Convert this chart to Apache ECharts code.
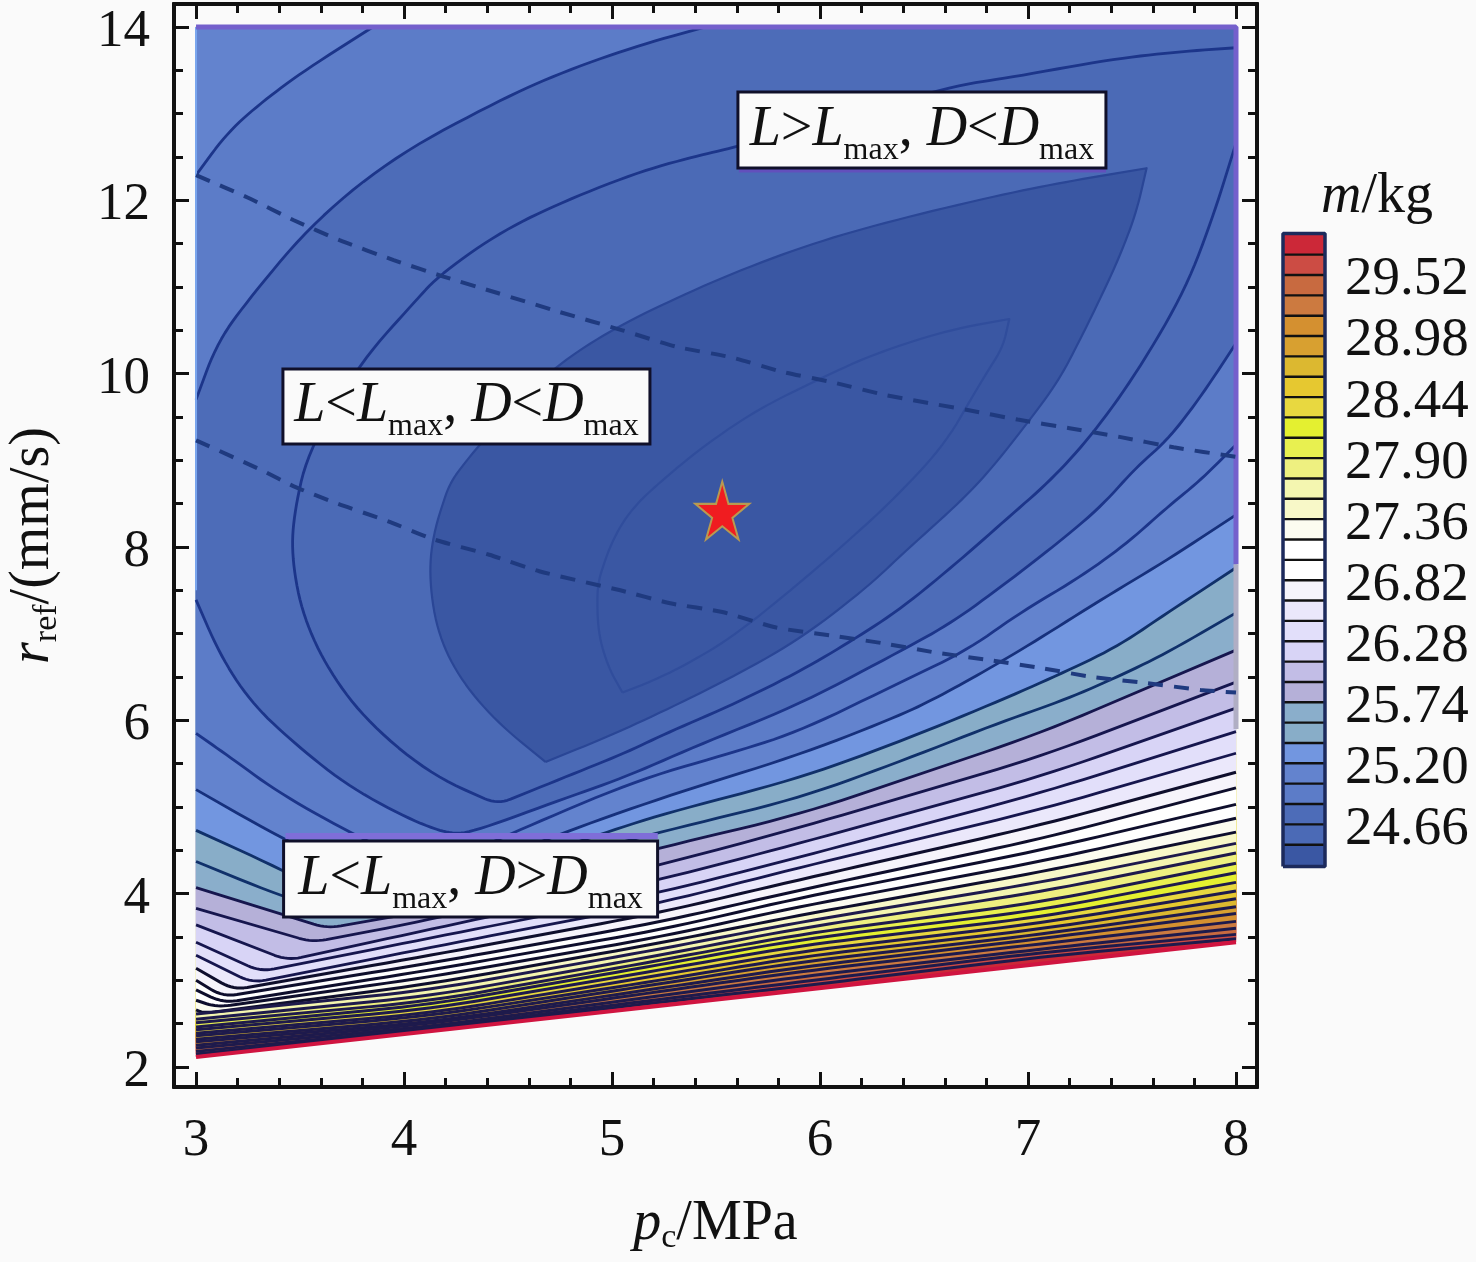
<!DOCTYPE html>
<html><head><meta charset="utf-8">
<style>html,body{margin:0;padding:0;background:#fafafa}#c{width:1476px;height:1262px}</style>
<script src="https://cdn.jsdelivr.net/npm/echarts@6/dist/echarts.min.js"></script>
</head><body><div id="c"></div>
<script>
const xTicks=[3,4,5,6,7,8];
const yTicks=[2,4,6,8,10,12,14];
const xMinor=[3.2,3.4,3.6,3.8,4.2,4.4,4.6,4.8,5.2,5.4,5.6,5.8,6.2,6.4,6.6,6.8,7.2,7.4,7.6,7.8];
const yMinor=[2.5,3,3.5,4.5,5,5.5,6.5,7,7.5,8.5,9,9.5,10.5,11,11.5,12.5,13,13.5];
const barTicks=[24.66,25.20,25.74,26.28,26.82,27.36,27.90,28.44,28.98,29.52];
const levels=[24.30,24.48,24.66,24.84,25.02,25.20,25.38,25.56,25.74,25.92,26.10,26.28,26.46,26.64,26.82,27.00,27.18,27.36,27.54,27.72,27.90,28.08,28.26,28.44,28.62,28.80,28.98,29.16,29.34,29.52,29.70];
const bandColors=['#3a57a3','#3a57a3','#4b6ab6','#4d6cb8','#5c7cc8','#6383ce','#7296e0','#88adc8','#8aaecb','#b5b0d8','#c2bde6','#d8d4f6','#e2dffa','#ebe8fb','#f6f4fb','#ffffff','#ffffff','#fcfcf0','#f8f8c8','#f4f6b0','#eef080','#e8f050','#e4f030','#e8d840','#e6c830','#dcb830','#d8a030','#d49030','#cc7a40','#c86a40','#cc4c44','#cc2838'];

const c01=[[5.05,6.32],[4.98,6.62],[4.93,7.04],[4.93,7.58],[5.00,8.08],[5.10,8.46],[5.26,8.81],[5.46,9.20],[5.71,9.60],[5.99,9.93],[6.25,10.22],[6.61,10.50],[6.91,10.63],[6.88,10.31],[6.75,9.81],[6.60,9.18],[6.35,8.54],[6.14,8.08],[5.90,7.58],[5.58,6.96],[5.34,6.62],[5.17,6.43],[5.05,6.32]];
const c02=[[4.68,5.52],[4.45,5.97],[4.27,6.47],[4.16,7.01],[4.12,7.65],[4.14,8.16],[4.22,8.74],[4.34,9.12],[4.56,9.70],[4.75,10.12],[4.98,10.48],[5.26,10.82],[5.62,11.20],[6.01,11.54],[6.42,11.81],[6.90,12.08],[7.22,12.23],[7.57,12.37],[7.52,11.85],[7.44,11.35],[7.36,10.93],[7.25,10.39],[7.15,9.93],[7.02,9.50],[6.82,8.89],[6.67,8.51],[6.40,7.93],[6.23,7.54],[5.90,6.93],[5.58,6.50],[5.26,6.12],[4.98,5.81],[4.68,5.52]];
const c03=[[8,13.76],[7.70,13.71],[7.38,13.62],[6.90,13.41],[6.66,13.33],[5.59,12.61],[5.42,12.52],[5.13,12.33],[4.75,11.97],[4.46,11.63],[4.17,11.14],[4.04,10.80],[3.79,10.13],[3.54,9.12],[3.47,8.38],[3.46,7.88],[3.51,7.23],[3.63,6.60],[3.82,5.99],[4.13,5.37],[4.45,5.03],[4.78,5.35],[5.07,5.63],[5.26,5.85],[5.58,6.18],[5.90,6.56],[6.14,6.90],[6.38,7.27],[6.66,7.82],[6.91,8.35],[7.11,8.77],[7.30,9.27],[7.51,9.96],[7.75,10.93],[7.89,11.81],[8,12.66]];
const c04a=[[5.45,14],[5.13,13.79],[4.75,13.47],[4.43,13.12],[3.95,12.50],[3.56,11.74],[3.25,10.85],[3.10,10.35],[3,9.70]];
const c04b=[[3,7.39],[3.12,6.73],[3.27,6.19],[3.47,5.74],[3.73,5.24],[4.04,4.84],[4.22,4.69],[4.33,4.71],[4.75,5.08],[5.07,5.35],[5.42,5.72],[5.90,6.18],[6.38,6.79],[6.63,7.12],[6.87,7.54],[7.12,8.00],[7.35,8.46],[7.52,8.92],[7.67,9.23],[7.83,9.73],[8,10.35]];
const c05a=[[3.85,14],[3.51,13.48],[3.31,13.12],[3.15,12.78],[3,12.29]];
const c05b=[[3,5.85],[3.16,5.58],[3.40,5.16],[3.75,4.69],[4.09,4.30],[4.32,4.48],[4.52,4.70],[5.12,5.31],[5.57,5.62],[5.90,5.87],[6.38,6.43],[6.71,6.81],[6.96,7.24],[7.25,7.65],[7.48,8.05],[7.67,8.46],[7.83,8.77],[8,9.18]];
const c06=[[3,5.20],[3.41,4.64],[3.96,3.98],[4.37,4.32],[4.76,4.70],[5.28,5.14],[5.90,5.60],[6.38,6.05],[6.56,6.26],[6.78,6.55],[7.02,6.89],[7.35,7.39],[7.67,7.85],[8,8.37]];
const c07=[[3,4.73],[3.42,4.27],[3.84,3.75],[4.46,4.30],[4.89,4.64],[5.23,4.91],[5.90,5.33],[6.38,5.75],[6.87,6.23],[7.17,6.55],[7.43,6.85],[7.67,7.24],[8,7.76]];
const c08=[[3,4.37],[3.42,3.96],[3.72,3.75],[4.46,4.22],[5.23,4.71],[5.90,5.10],[6.38,5.52],[6.87,5.98],[7.17,6.23],[7.43,6.50],[7.67,6.78],[8,7.24]];
const c09=[[3,4.07],[3.63,3.60],[4.13,3.81],[5.23,4.53],[5.90,4.91],[7.06,5.85],[8,6.81]];
const c10=[[3,3.83],[3.56,3.44],[4.13,3.70],[5.23,4.33],[5.90,4.76],[7.06,5.58],[8,6.44]];
const c11=[[3,3.64],[3.44,3.23],[4.13,3.59],[5.23,4.16],[5.90,4.58],[7.06,5.35],[8,6.14]];
const c12=[[3,3.44],[3.31,3.10],[4.13,3.49],[5.23,4.01],[5.90,4.42],[7.06,5.16],[8,5.87]];
const c13=[[3,3.29],[3.27,2.97],[4.13,3.38],[5.23,3.89],[5.90,4.30],[7.06,4.97],[8,5.62]];
const c14=[[3,3.14],[3.18,2.89],[4.13,3.29],[5.23,3.78],[5.90,4.16],[7.06,4.79],[8,5.40]];
const c15=[[3,3.00],[3.13,2.81],[4.13,3.20],[5.23,3.67],[5.90,4.04],[7.06,4.63],[8,5.22]];
const c16=[[3,2.89],[3.13,2.74],[4.13,3.12],[5.23,3.58],[5.90,3.95],[7.06,4.50],[8,5.03]];
const c17=[[3,2.77],[3.10,2.69],[4.13,3.04],[5.23,3.50],[5.90,3.85],[7.06,4.37],[8,4.87]];
const c18=[[3,2.66],[3.04,2.62],[4.13,2.96],[5.23,3.43],[5.90,3.75],[7.06,4.25],[8,4.71]];
const c19=[[3,2.61],[4.13,2.89],[5.23,3.36],[5.90,3.67],[7.06,4.13],[8,4.58]];
const c20=[[3,2.55],[4.13,2.82],[5.23,3.29],[5.90,3.60],[7.06,4.02],[8,4.47]];
const c21=[[3,2.51],[4.13,2.76],[5.23,3.23],[5.90,3.53],[7.06,3.90],[8,4.35]];
const c22=[[3,2.46],[4.13,2.72],[5.23,3.18],[5.90,3.47],[7.06,3.81],[8,4.24]];
const c23=[[3,2.43],[4.13,2.67],[5.23,3.12],[5.90,3.40],[7.06,3.73],[8,4.13]];
const c24=[[3,2.39],[4.13,2.62],[5.23,3.06],[5.90,3.33],[7.06,3.66],[8,4.03]];
const c25=[[3,2.36],[4.13,2.59],[5.23,3.00],[5.90,3.27],[7.06,3.59],[8,3.94]];
const c26=[[3,2.32],[4.13,2.55],[5.23,2.96],[5.90,3.21],[7.06,3.53],[8,3.85]];
const c27=[[3,2.29],[4.13,2.52],[5.23,2.91],[5.90,3.15],[7.06,3.48],[8,3.77]];
const c28=[[3,2.25],[4.13,2.50],[5.23,2.87],[5.90,3.10],[7.06,3.42],[8,3.68]];
const c29=[[3,2.22],[4.13,2.47],[5.23,2.82],[5.90,3.04],[7.06,3.36],[8,3.60]];
const c30=[[3,2.18],[4.13,2.45],[5.23,2.78],[5.90,2.98],[7.06,3.32],[8,3.53]];
const c31=[[3,2.15],[4.13,2.43],[5.23,2.75],[5.90,2.93],[7.06,3.27],[8,3.48]];

const dashLengthLimit=[[3,12.29],[3.25,12.03],[3.47,11.77],[3.69,11.54],[3.95,11.31],[4.19,11.12],[4.45,10.93],[4.75,10.71],[5.05,10.50],[5.31,10.31],[5.57,10.19],[5.82,10.02],[6.06,9.90],[6.32,9.75],[6.71,9.58],[6.95,9.47],[7.20,9.37],[7.44,9.27],[7.70,9.15],[8,9.04]];
const dashDiameterLimit=[[3,9.23],[3.32,8.88],[3.47,8.70],[3.68,8.50],[3.92,8.30],[4.14,8.09],[4.41,7.91],[4.65,7.72],[5.04,7.50],[5.28,7.35],[5.53,7.25],[5.79,7.07],[6.05,6.98],[6.30,6.89],[6.56,6.78],[6.80,6.70],[7.07,6.60],[7.31,6.50],[7.57,6.43],[7.83,6.35],[8,6.32]];
const domainEdge=[[3,14],[8,14],[8,3.44],[3,2.115]];
const topEdge=[[3,14],[8,14],[8,7.8]];
const rightGrey=[[8,7.8],[8,5.9]];
const leftEdge=[[3,14],[3,7.5]];
const bottomEdge=[[3,2.115],[8,3.44]];
const shadeLow=[[3.43,4.665],[5.22,4.665]];
const shadeHigh=[[5.61,12.35],[7.375,12.35]];
const optimum=[[5.53,8.42]];
const boxes=[{pos:[6.49,12.81],t:['L','>','L','D','<','D'],w:365,h:73},{pos:[4.30,9.62],t:['L','<','L','D','<','D'],w:364,h:72},{pos:[4.32,4.17],t:['L','<','L','D','>','D'],w:371,h:73}];

const lines=[c01,c02,c03,c04a,c04b,c05a,c05b,c06,c07,c08,c09,c10,c11,c12,c13,c14,c15,c16,c17,c18,c19,c20,c21,c22,c23,c24,c25,c26,c27,c28,c29,c30,c31];
const lineColor=i=>i===0?'#304d9c':i===1?'#2a4696':i<=6?'#1c358a':i===7?'#16307c':i<=9?'#10306a':i<=14?'#16164e':i<=19?'#0e0e2c':'#1e1a4c';
const lineWidth=i=>i<2?2.2:(i>=15?3:2.8);
// Each fill is a list of parts: an open contour (rounded when drawn) or a literal corner list.
const fills=[
 {parts:[domainEdge],band:31}
];
[c31,c30,c29,c28,c27,c26,c25,c24,c23,c22,c21,c20,c19,c18,c17,c16,c15,c14,c13,c12,c11,c10,c09,c08,c07,c06].forEach((c,i)=>fills.push({parts:[c,[[8,14],[3,14]]],band:30-i}));
fills.push({parts:[c05b,[[8,14]],c05a],band:4},{parts:[c04b,[[8,14]],c04a],band:3},{parts:[c03],band:2},{parts:[c02],band:1},{parts:[c01],band:0});

// drawing helper: rounds shallow polyline corners in screen space, keeps sharp tips
function rounded(pts){
 const out=[pts[0]];
 for(let i=1;i<pts.length-1;i++){
  const p=pts[i-1],q=pts[i],r=pts[i+1];
  const a=[q[0]-p[0],q[1]-p[1]],b=[r[0]-q[0],r[1]-q[1]];
  const la=Math.hypot(a[0],a[1]),lb=Math.hypot(b[0],b[1]);
  const turn=Math.abs(Math.atan2(a[0]*b[1]-a[1]*b[0],a[0]*b[0]+a[1]*b[1]))*180/Math.PI;
  if(turn>100){out.push(q);continue;}
  const lim=turn<18?60:14;
  const da=Math.min(la*0.5,lim),db=Math.min(lb*0.5,lim);
  const s=[q[0]-a[0]/la*da,q[1]-a[1]/la*da],e=[q[0]+b[0]/lb*db,q[1]+b[1]/lb*db];
  for(let k=0;k<=8;k++){const t=k/8,u=1-t;out.push([u*u*s[0]+2*u*t*q[0]+t*t*e[0],u*u*s[1]+2*u*t*q[1]+t*t*e[1]]);}
 }
 out.push(pts[pts.length-1]);
 return out;
}

const serif='"Liberation Serif","Times New Roman",serif';
const txt='#111';
const rich={i:{fontFamily:serif,fontStyle:'italic',fontSize:56,color:txt},n:{fontFamily:serif,fontSize:56,color:txt},s:{fontFamily:serif,fontSize:32,color:txt,verticalAlign:'bottom',lineHeight:62}};
const axisRich={i:{fontFamily:serif,fontStyle:'italic',fontWeight:'normal',fontSize:56,color:txt},n:{fontFamily:serif,fontWeight:'normal',fontSize:56,color:txt},s:{fontFamily:serif,fontWeight:'normal',fontSize:34,color:txt,verticalAlign:'bottom',lineHeight:62}};
const frame={lineStyle:{color:txt,width:4},onZero:false,show:true};
const xA={min:2.894,max:8.101,type:'value',gridIndex:0,splitLine:{show:false},axisLine:frame};
const yA={min:1.769,max:14.265,type:'value',gridIndex:0,splitLine:{show:false},axisLine:frame};
const tick=(vals,len)=>({show:true,inside:true,length:len,customValues:vals,lineStyle:{color:txt,width:3}});
const noLab={show:false};
const tickFont={show:true,fontFamily:serif,fontSize:53,color:txt};
const shifted=size=>({a:{fontFamily:serif,fontSize:size,color:txt,padding:[10,0,0,0]}});
const option={
 animation:false,backgroundColor:'#fafafa',
 title:{text:'{i|m}{n|/kg}',left:1316,top:164,textStyle:{fontWeight:'normal',rich:axisRich}},
 grid:[{left:174,top:4,width:1083,height:1083,containLabel:false,outerBoundsMode:'none'},{left:1283,top:233.4,width:42,height:633,outerBoundsMode:'none'}],
 xAxis:[
  Object.assign({},xA,{position:'bottom',axisTick:tick(xTicks,15),axisLabel:Object.assign({},tickFont,{customValues:xTicks,margin:28,formatter:v=>String(v)}),
    name:'{i|p}{s|c}{n|/MPa}',nameLocation:'middle',nameGap:106,nameTextStyle:{rich:axisRich}}),
  Object.assign({},xA,{position:'top',axisTick:tick(xTicks,15),axisLabel:noLab}),
  Object.assign({},xA,{position:'bottom',axisTick:tick(xMinor,9),axisLabel:noLab}),
  Object.assign({},xA,{position:'top',axisTick:tick(xMinor,9),axisLabel:noLab}),
  {type:'value',gridIndex:1,min:0,max:1,show:false}
 ],
 yAxis:[
  Object.assign({},yA,{position:'left',axisTick:tick(yTicks,15),axisLabel:Object.assign({},tickFont,{customValues:yTicks,margin:24,rich:shifted(53),formatter:v=>'{a|'+v+'}'}),
    name:'{i|r}{s|ref}{n|/(mm/s)}',nameLocation:'middle',nameGap:110,nameTextStyle:{rich:axisRich}}),
  Object.assign({},yA,{position:'right',axisTick:tick(yTicks,15),axisLabel:noLab}),
  Object.assign({},yA,{position:'left',axisTick:tick(yMinor,9),axisLabel:noLab}),
  Object.assign({},yA,{position:'right',axisTick:tick(yMinor,9),axisLabel:noLab}),
  {type:'value',gridIndex:1,min:24.288,max:29.888,position:'right',splitLine:{show:false},axisLine:{show:false},axisTick:{show:false},
   axisLabel:Object.assign({},tickFont,{customValues:barTicks,margin:20,rich:shifted(55),formatter:v=>'{a|'+v.toFixed(2)+'}'})}
 ],
 series:[]
};
const toPx=(api,c)=>c.map(q=>api.coord(q));
option.series.push({type:'custom',xAxisIndex:0,yAxisIndex:0,silent:true,clip:false,z:1,data:fills.map((_,i)=>[i]),encode:{x:-1,y:-1},
  renderItem:(p,api)=>{const f=fills[p.dataIndex];let pts=[];f.parts.forEach(part=>{const px=toPx(api,part);pts=pts.concat(part.length>2&&part!==domainEdge?rounded(px):px);});
   const col=bandColors[f.band];return {type:'polygon',shape:{points:pts},style:{fill:col,stroke:col,lineWidth:0.5}};}});
option.series.push({type:'custom',xAxisIndex:0,yAxisIndex:0,silent:true,clip:false,z:3,data:lines.map((_,i)=>[i]),encode:{x:-1,y:-1},
  renderItem:(p,api)=>({type:'polyline',shape:{points:rounded(toPx(api,lines[p.dataIndex]))},style:{fill:null,stroke:lineColor(p.dataIndex),lineWidth:lineWidth(p.dataIndex),lineJoin:'round'}})});
const edge=(d,color,width,z)=>({type:'line',xAxisIndex:0,yAxisIndex:0,data:d,showSymbol:false,silent:true,z:z,clip:false,lineStyle:{color,width}});
option.series.push(edge(leftEdge,'#7aa6ee',2,4),edge(topEdge,'#7460cc',5,4),edge(rightGrey,'#b0aec4',5,4),edge(bottomEdge,'#d01440',4,4),edge(shadeLow,'#7f6ed8',6,4),edge(shadeHigh,'#6250bc',5,4));
[dashLengthLimit,dashDiameterLimit].forEach(d=>option.series.push({type:'line',xAxisIndex:0,yAxisIndex:0,data:d,showSymbol:false,silent:true,z:5,smooth:0.2,lineStyle:{color:'#1f3a7f',width:4,type:[15,11]}}));
option.series.push({type:'scatter',xAxisIndex:0,yAxisIndex:0,data:optimum,silent:true,z:6,symbol:'path://M50,0 L61,35 L98,35 L68,57 L79,91 L50,70 L21,91 L32,57 L2,35 L39,35 Z',symbolSize:[54,58],itemStyle:{opacity:1,color:'#f01c20',borderColor:'#b89a50',borderWidth:2}});
boxes.forEach(b=>option.series.push({type:'scatter',xAxisIndex:0,yAxisIndex:0,data:[b.pos],symbolSize:0,silent:true,z:7,itemStyle:{opacity:1},
  label:{show:true,opacity:1,position:'inside',width:b.w,height:b.h,align:'center',verticalAlign:'middle',backgroundColor:'#fafafa',borderColor:'#10102a',borderWidth:3,rich,lineHeight:b.h,
   formatter:`{i|${b.t[0]}}{n|${b.t[1]}}{i|${b.t[2]}}{s|max}{n|, }{i|${b.t[3]}}{n|${b.t[4]}}{i|${b.t[5]}}{s|max}`}}));
// colour bar
const edges=[levels[0]-0.012].concat(levels,[29.888]);
const cells=bandColors.slice(1).map((c,i)=>[i]);
option.series.push({type:'custom',xAxisIndex:4,yAxisIndex:4,silent:true,clip:false,z:1,data:cells,encode:{x:-1,y:-1},
  renderItem:(p,api)=>{const i=p.dataIndex;const a=api.coord([0,edges[i+1]]);const b=api.coord([1,edges[i+2]]);return {type:'rect',shape:{x:a[0],y:b[1],width:b[0]-a[0],height:a[1]-b[1]},style:{fill:bandColors[i+1]}};}});
option.series.push({type:'custom',xAxisIndex:4,yAxisIndex:4,silent:true,clip:false,z:2,data:levels.slice(1).map((_,i)=>[i]),encode:{x:-1,y:-1},
  renderItem:(p,api)=>{const v=levels[p.dataIndex+1];const a=api.coord([0,v]);const b=api.coord([1,v]);return {type:'line',shape:{x1:a[0],y1:a[1],x2:b[0],y2:b[1]},style:{stroke:txt,lineWidth:2.4}};}});
const barFrame=[[0,24.288],[1,24.288],[1,29.888],[0,29.888],[0,24.288]];
option.series.push({type:'line',xAxisIndex:4,yAxisIndex:4,data:barFrame,showSymbol:false,silent:true,clip:false,z:3,lineStyle:{color:'#1c2a5c',width:3.5}});
const chart=echarts.init(document.getElementById('c'),null,{renderer:'canvas'});
chart.setOption(option);
</script></body></html>
